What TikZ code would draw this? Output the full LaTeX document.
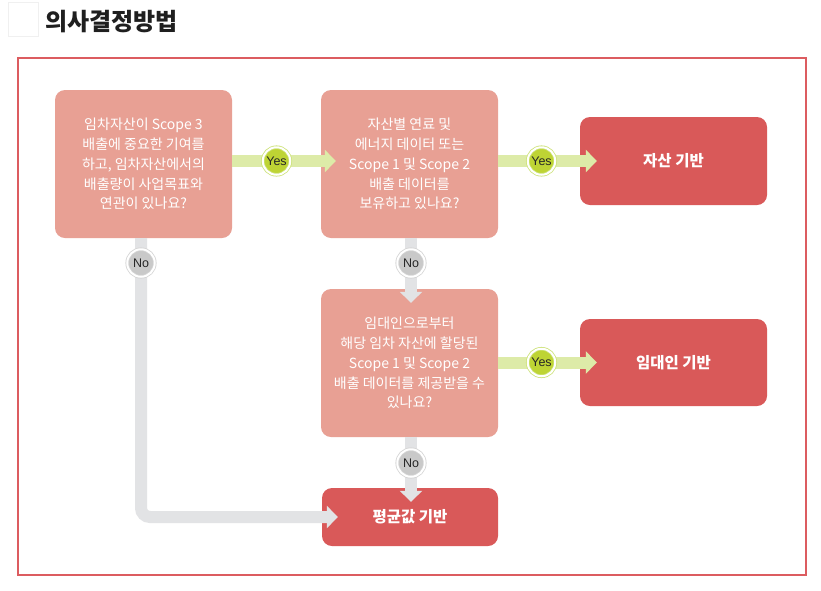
\documentclass[tikz,border=0pt]{standalone}
\usepackage{fontspec}
\setmainfont{Noto Sans CJK KR}
\newfontfamily\latinsans{Liberation Sans}
\usetikzlibrary{arrows.meta}
\definecolor{qcol}{RGB}{232,160,148}
\definecolor{rcol}{RGB}{217,89,89}
\definecolor{framecol}{RGB}{220,92,96}
\definecolor{ycol}{RGB}{221,235,168}
\definecolor{ygreen}{RGB}{190,212,52}
\definecolor{yring}{RGB}{205,226,120}
\definecolor{ncol}{RGB}{226,227,229}
\definecolor{ngray}{RGB}{201,201,201}
\definecolor{nring}{RGB}{212,212,212}
\begin{document}
\begin{tikzpicture}[x=1pt,y=-1pt,
  qbox/.style={rounded corners=10pt, fill=qcol, minimum width=177pt, minimum height=148pt, inner sep=0pt, text=white, align=center, font=\fontsize{14}{19.8}\selectfont},
  rbox/.style={rounded corners=10pt, fill=rcol, inner sep=0pt, text=white, font=\fontsize{15.5}{18}\selectfont\bfseries},
  yesarrow/.style={draw=ycol, line width=12pt, -{Triangle[width=22pt,length=11pt]}},
  noarrow/.style={draw=ncol, line width=12pt, -{Triangle[width=22pt,length=11pt]}, rounded corners=9pt},
  yesc/.style={circle, fill=ygreen, draw=yring, double=white, double distance=2pt, line width=0.8pt, minimum size=27.5pt, inner sep=0pt, font=\latinsans\fontsize{12.5}{13}\selectfont, text=black!85},
  noc/.style={circle, fill=ngray, draw=nring, double=white, double distance=2pt, line width=0.8pt, minimum size=27.5pt, inner sep=0pt, font=\latinsans\fontsize{12.5}{13}\selectfont, text=black!85}]
\useasboundingbox (0,0) rectangle (821,590);
\fill[white] (0,0) rectangle (821,590);
% title
\node[draw=black!6, fill=white, minimum width=30pt, minimum height=34pt, inner sep=0pt, anchor=north west] (tbox) at (8,2) {};
\node[anchor=west, inner sep=0pt, font=\fontsize{24}{26}\selectfont\bfseries, text=black!88] (title) at (45,22) {의사결정방법};
% frame
\node[draw=framecol, line width=2pt, minimum width=788pt, minimum height=517pt, anchor=north west, inner sep=0pt] (frame) at (17,57) {};
% boxes
\node[qbox] (b1) at (143.5,164) {임차자산이 Scope 3\\배출에 중요한 기여를\\하고, 임차자산에서의\\배출량이 사업목표와\\연관이 있나요?};
\node[qbox] (b2) at (409.5,164) {자산별 연료 및\\에너지 데이터 또는\\Scope 1 및 Scope 2\\배출 데이터를\\보유하고 있나요?};
\node[qbox] (b3) at (409.5,363) {임대인으로부터\\해당 임차 자산에 할당된\\Scope 1 및 Scope 2\\배출 데이터를 제공받을 수\\있나요?};
\node[rbox, minimum width=187pt, minimum height=88pt] (r1) at (673.5,161) {자산 기반};
\node[rbox, minimum width=187pt, minimum height=87pt] (r2) at (673.5,362.5) {임대인 기반};
\node[rbox, minimum width=176pt, minimum height=58pt] (r3) at (410,517) {평균값 기반};
% yes arrows
\draw[yesarrow] (b1.east |- r1.west) -- ([xshift=15pt]b2.west |- r1.west);
\draw[yesarrow] (b2.east |- r1.west) -- ([xshift=17pt]r1.west);
\draw[yesarrow] (b3.east |- r2.west) -- ([xshift=17pt]r2.west);
% no arrows
\draw[noarrow] ([xshift=-2.5pt]b1.south) -- ([xshift=-2.5pt]b1.south |- r3.west) -- ([xshift=16pt]r3.west);
\draw[noarrow] ([xshift=1.5pt]b2.south) -- ([xshift=1.5pt,yshift=-14pt]b3.north);
\draw[noarrow] ([xshift=1.5pt]b3.south) -- ([xshift=1pt,yshift=-14pt]r3.north);
% labels
\node[yesc] (y1) at (276.5,161) {Yes};
\node[yesc] (y2) at (541.5,161) {Yes};
\node[yesc] (y3) at (541.5,362.5) {Yes};
\node[noc] (n1) at (141,263) {No};
\node[noc] (n2) at (411,263) {No};
\node[noc] (n3) at (411,463) {No};
\end{tikzpicture}
\end{document}
